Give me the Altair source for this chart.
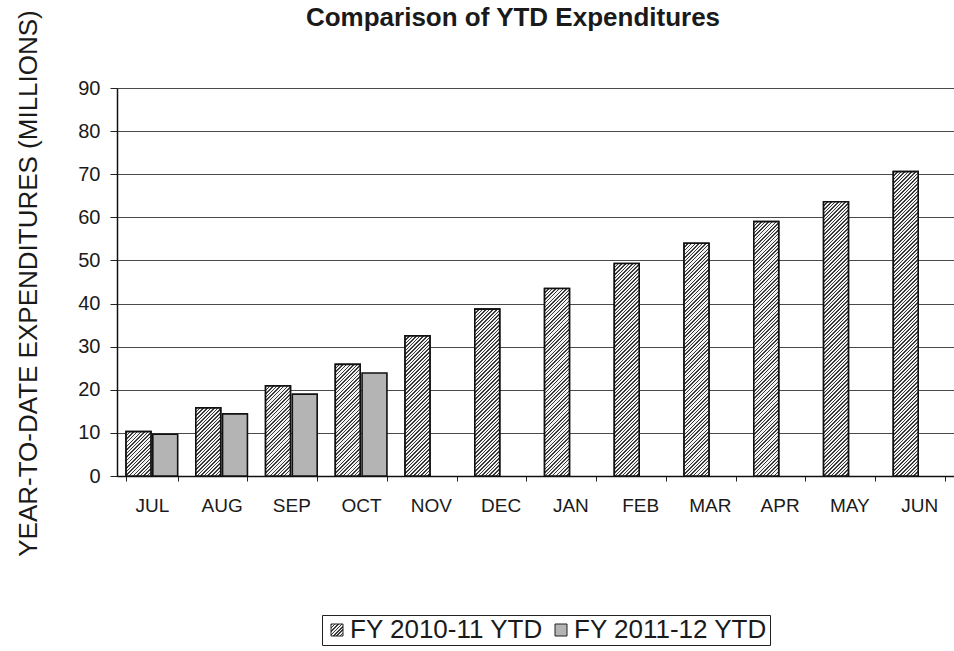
import altair as alt
import pandas as pd

months = ["JUL", "AUG", "SEP", "OCT", "NOV", "DEC", "JAN", "FEB", "MAR", "APR", "MAY", "JUN"]
fy1011 = [10.3, 15.8, 20.9, 25.9, 32.5, 38.7, 43.5, 49.3, 54.0, 59.0, 63.6, 70.6]
fy1112 = [9.7, 14.4, 19.0, 23.9]
series = ["FY 2010-11 YTD", "FY 2011-12 YTD"]
y_ticks = [0, 10, 20, 30, 40, 50, 60, 70, 80, 90]
chart_title = "Comparison of YTD Expenditures"

rows = []
for m, v in zip(months, fy1011):
    rows.append({"month": m, "series": series[0], "value": v})
for m, v in zip(months, fy1112):
    rows.append({"month": m, "series": series[1], "value": v})
df = pd.DataFrame(rows)

# layout (pixels)
W, H = 837, 388
PAD_L, PAD_T = 117, 88
Y_MAX = 90
# band geometry, used only to size the hatch texture
P_IN, P_OUT = 0.26, 0.13
O_IN = 0.07
step = W / (len(months) - P_IN + 2 * P_OUT)
band = step * (1 - P_IN)
bar_w = band / (2 - O_IN) * (1 - O_IN)

FONT = "Liberation Sans"
TXT = "#1a1a1a"
DARK, LIGHT = "#3a3a3a", "#f2f2f2"


def hatch(w, h, spacing=3.6, dark=0.42):
    """Diagonal '////' texture as a hard-stop linear gradient for a w x h box."""
    denom = w * w + h * h
    tmax = min(1.0, (w + h) * w / denom)
    period = spacing * w / denom
    stops = []
    k = 0
    while k * period < tmax + period and k * period <= 1.0:
        a = k * period
        b = min(1.0, a + period * dark)
        c = min(1.0, a + period)
        stops += [
            {"offset": round(a, 6), "color": DARK},
            {"offset": round(b, 6), "color": DARK},
            {"offset": round(b, 6), "color": LIGHT},
            {"offset": round(c, 6), "color": LIGHT},
        ]
        k += 1
    return {"gradient": "linear", "x1": 0, "y1": 0, "x2": 1, "y2": round(h / w, 6), "stops": stops}


legend_hatch = alt.param(name="hatchleg", value=hatch(12, 12, spacing=3.4))

x_enc = alt.X(
    "month:N",
    sort=months,
    title=None,
    scale=alt.Scale(paddingInner=P_IN, paddingOuter=P_OUT),
    axis=alt.Axis(
        labelFontSize=19, labelFont=FONT, labelColor=TXT, labelAngle=0,
        labelPadding=15, tickBand="extent", tickSize=5, tickColor="#222",
        domainColor="#111", domainWidth=1.5, grid=False,
    ),
)
xo_enc = alt.XOffset("series:N", sort=series, scale=alt.Scale(paddingInner=O_IN, paddingOuter=0))
y_enc = alt.Y(
    "value:Q",
    title="YEAR-TO-DATE EXPENDITURES (MILLIONS)",
    scale=alt.Scale(domain=[0, Y_MAX], nice=False),
    axis=alt.Axis(
        values=y_ticks, labelFontSize=20, labelFont=FONT, labelColor=TXT,
        labelPadding=10, tickSize=7, tickColor="#222", domainColor="#111",
        domainWidth=1.5, gridColor="#4a4a4a", gridWidth=1.2,
        titleFontSize=26, titleFont=FONT, titleFontWeight="normal", titleColor=TXT,
        titleAngle=-90, titleX=-89, titleY=H / 2 + 1, titleAlign="center",
        titleBaseline="middle",
    ),
)

base = alt.Chart(df).mark_bar(stroke="#111", strokeWidth=1.6).encode(
    x=x_enc,
    xOffset=xo_enc,
    y=y_enc,
    color=alt.Color(
        "series:N",
        sort=series,
        title=None,
        scale=alt.Scale(domain=series, range=[{"expr": "hatchleg"}, "#b4b4b4"]),
        legend=alt.Legend(
            orient="none", legendX=205, legendY=527, direction="horizontal",
            padding=2, strokeColor="#222", fillColor="white",
            labelFontSize=26, labelFont=FONT, labelColor=TXT, labelOffset=0,
            labelLimit=400, symbolType="square", symbolSize=144,
            symbolStrokeColor="#222", symbolStrokeWidth=1, columnPadding=4,
        ),
    ),
).add_params(legend_hatch)

layers = [base]
for m, v in zip(months, fy1011):
    h = v * H / Y_MAX
    layers.append(
        alt.Chart(df)
        .transform_filter((alt.datum.month == m) & (alt.datum.series == series[0]))
        .mark_bar(fill=hatch(bar_w, h), stroke="#111", strokeWidth=1.6)
        .encode(x=x_enc, xOffset=xo_enc, y=y_enc)
    )

title_layer = (
    alt.Chart(pd.DataFrame({"t": [chart_title]}))
    .mark_text(font=FONT, fontSize=26, fontWeight="bold", color=TXT,
               align="center", baseline="alphabetic")
    .encode(text="t:N", x=alt.value(396), y=alt.value(-62))
)
layers.append(title_layer)

chart = (
    alt.layer(*layers)
    .properties(
        width=W,
        height=H,
        autosize=alt.AutoSizeParams(type="none"),
        padding={"left": PAD_L, "top": PAD_T, "right": 0, "bottom": 651 - PAD_T - H},
    )
    .configure_view(strokeWidth=0)
    .configure(background="white")
)

chart.save("out.html", embed_options={"renderer": "svg", "actions": False})
